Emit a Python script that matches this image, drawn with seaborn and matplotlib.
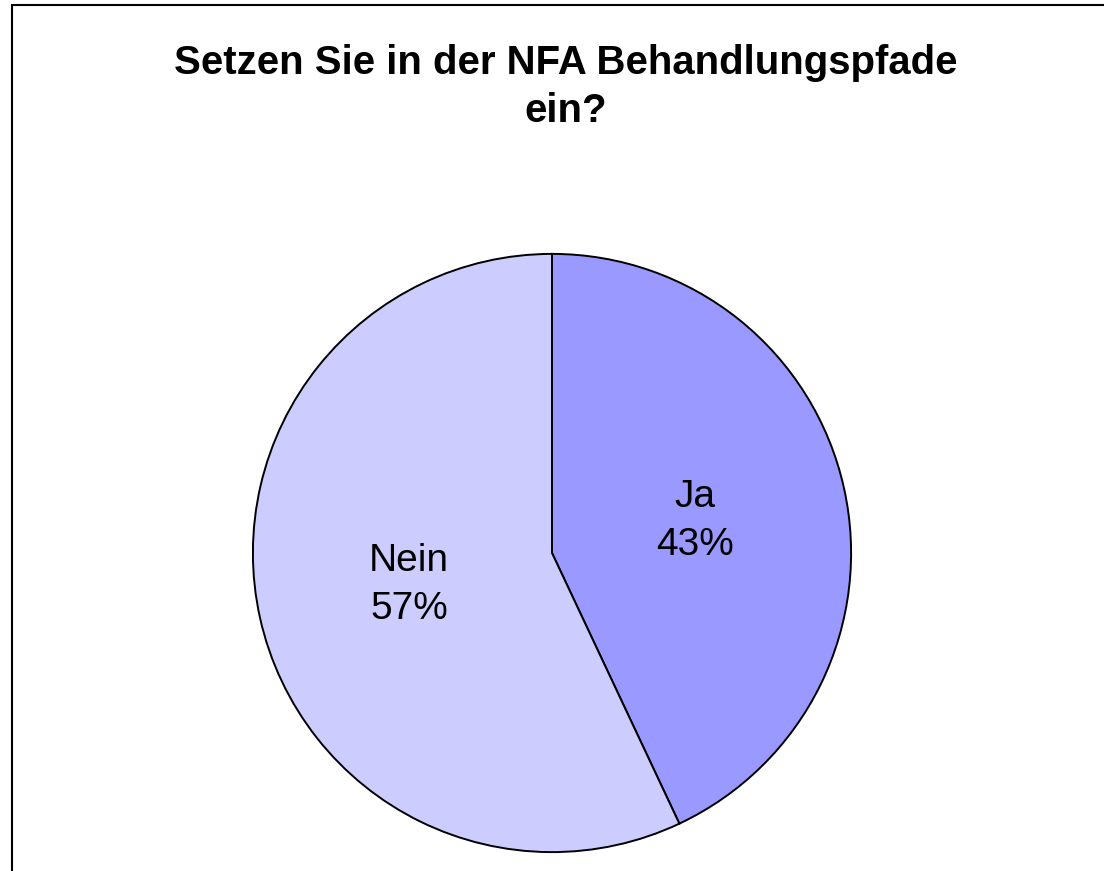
import matplotlib
matplotlib.use("Agg")
import matplotlib.pyplot as plt
from matplotlib.lines import Line2D
import seaborn as sns

# Data
categories = ["Ja", "Nein"]
shares = [43, 57]
colors = ["#9999FF", "#CCCCFF"]

sns.set_theme(style="white")
plt.rcParams['font.family'] = ['Liberation Sans', 'DejaVu Sans']

fig = plt.figure(figsize=(11.04, 8.71), dpi=100)
fig.patch.set_facecolor("white")

# axes box that holds the pie (600 px square)
ax = fig.add_axes([252 / 1104, 18 / 871, 600 / 1104, 600 / 871])

labels = [f"{c}\n{v}%" for c, v in zip(categories, shares)]
wedges, texts = ax.pie(shares, labels=labels, colors=colors, startangle=90,
                       counterclock=False, labeldistance=0.49,
                       wedgeprops=dict(edgecolor="black", linewidth=1.4),
                       textprops=dict(fontsize=28, color="black", linespacing=1.43))
for t in texts:
    t.set_ha("center")
    t.set_va("center")
ax.set_xlim(-1.003, 1.003)
ax.set_ylim(-1.003, 1.003)
ax.set_aspect("equal")

fig.text(566 / 1104, 1 - 44 / 871, "Setzen Sie in der NFA Behandlungspfade\nein?",
         ha="center", va="top", fontsize=28.9, fontweight="bold", linespacing=1.35,
         color="black")

# chart area border (left and top visible)
fig.add_artist(Line2D([11.5 / 1104, 11.5 / 1104], [0, 1 - 5 / 871], color="black", lw=1.5,
                      transform=fig.transFigure))
fig.add_artist(Line2D([11.5 / 1104, 1], [1 - 5 / 871, 1 - 5 / 871], color="black", lw=1.5,
                      transform=fig.transFigure))

fig.savefig("out.png", dpi=100)
